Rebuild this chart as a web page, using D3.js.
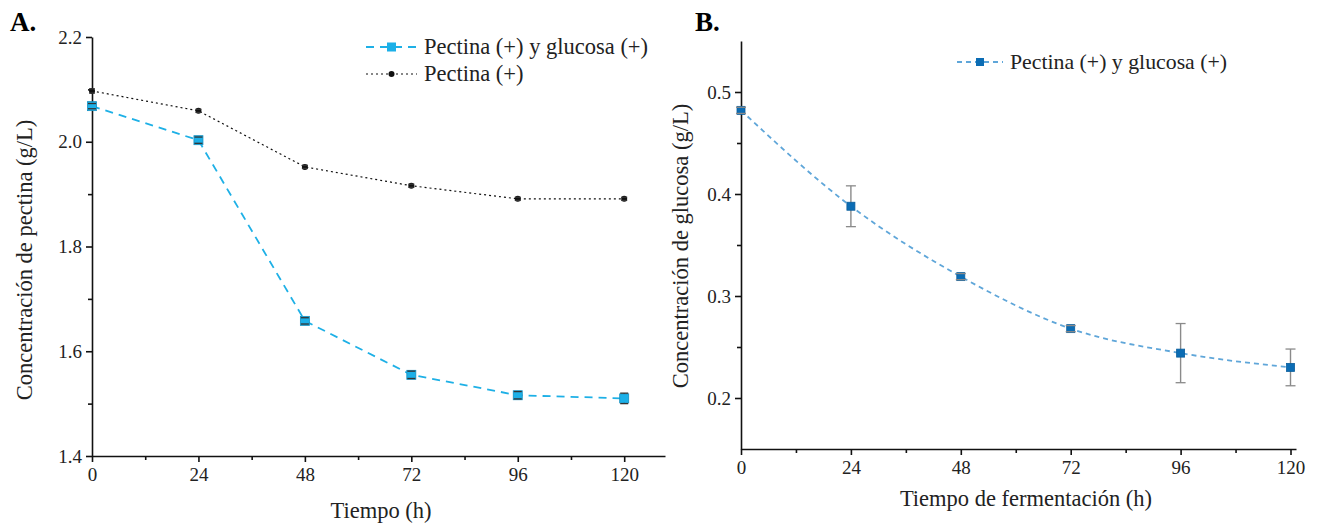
<!DOCTYPE html>
<html><head><meta charset="utf-8">
<script src="https://cdn.jsdelivr.net/npm/d3@7"></script>
<style>body{margin:0;background:#fff}svg{display:block}</style>
</head><body><svg id="c" width="1317" height="525"></svg>
<script>
const times = [0, 24, 48, 72, 96, 120];
const xTicks = [0, 24, 48, 72, 96, 120];
// Panel A
const pectGluc = [2.068, 2.003, 1.658, 1.555, 1.516, 1.510];
const pectGlucErr = [0.005, 0.006, 0.006, 0.007, 0.007, 0.010];
const pect = [2.097, 2.059, 1.952, 1.916, 1.891, 1.891];
const pectErr = [0.004, 0.003, 0.003, 0.003, 0.003, 0.003];
const yTicksA = [1.4, 1.6, 1.8, 2.0, 2.2];
const yMinorA = [1.5, 1.7, 1.9, 2.1];
// Panel B
const gluc = [0.482, 0.388, 0.319, 0.268, 0.244, 0.230];
const glucErr = [0.003, 0.020, 0.003, 0.003, 0.029, 0.018];
const yTicksB = [0.2, 0.3, 0.4, 0.5];
const yMinorB = [0.25, 0.35, 0.45];
const xMinor = [12, 36, 60, 84, 108];

const FONT = "Liberation Serif, DejaVu Serif, serif";
const svg = d3.select("#c").attr("font-family", FONT);

function panel(o){
  const g = svg.append("g");
  const x = d3.scaleLinear().domain(o.xd).range([o.x0, o.x1]);
  const y = d3.scaleLinear().domain(o.yd).range([o.y1, o.y0]);
  const ax = g.append("g").attr("transform",`translate(0,${o.y1})`)
    .call(d3.axisBottom(x).tickValues(xTicks).tickSize(6).tickSizeOuter(0).tickPadding(6).tickFormat(d3.format("d")));
  const axm = g.append("g").attr("transform",`translate(0,${o.y1})`)
    .call(d3.axisBottom(x).tickValues(xMinor).tickSize(4).tickSizeOuter(0).tickFormat(""));
  axm.select(".domain").remove();
  const ay = g.append("g").attr("transform",`translate(${o.x0},0)`)
    .call(d3.axisLeft(y).tickValues(o.yt).tickSize(6).tickSizeOuter(0).tickPadding(4).tickFormat(d3.format(".1f")));
  const aym = g.append("g").attr("transform",`translate(${o.x0},0)`)
    .call(d3.axisLeft(y).tickValues(o.ym).tickSize(4).tickSizeOuter(0).tickFormat(""));
  aym.select(".domain").remove();
  [ax,axm,ay,aym].forEach(a=>{a.attr("font-family",FONT);
    a.selectAll("path,line").attr("stroke","#111").attr("stroke-width",1.6);
    a.selectAll("text").attr("font-size",19).attr("fill","#222");});
  g.append("text").attr("x",o.xtX).attr("y",o.xtY).attr("text-anchor","middle")
    .attr("font-size",22.5).attr("fill","#222").text(o.xt);
  g.append("text").attr("transform",`translate(${o.ytX},${o.ytY}) rotate(-90)`).attr("text-anchor","middle")
    .attr("font-size",22.5).attr("fill","#222").text(o.yt_);
  g.append("text").attr("x",o.lx).attr("y",31).attr("font-size",27).attr("font-weight","bold").attr("fill","#000").text(o.label);
  return {g,x,y};
}

const A = panel({x0:92,x1:665,y0:37,y1:456,xd:[0,129.2],yd:[1.4,2.2],yt:yTicksA,ym:yMinorA,
  xt:"Tiempo (h)",xtX:381,xtY:518,yt_:"Concentración de pectina (g/L)",ytX:32,ytY:260,label:"A.",lx:10});
const B = panel({x0:741,x1:1296,y0:41,y1:449,xd:[0,121.2],yd:[0.15,0.55],yt:yTicksB,ym:yMinorB,
  xt:"Tiempo de fermentación (h)",xtX:1026,xtY:506,yt_:"Concentración de glucosa (g/L)",ytX:688,ytY:246,label:"B.",lx:695});

function series(P, vals, errs, st){
  const d = times.map((t,i)=>({t,v:vals[i],e:errs[i]}));
  const line = d3.line().x(d=>P.x(d.t)).y(d=>P.y(d.v)).curve(st.curve);
  P.g.append("path").datum(d).attr("d",line).attr("fill","none").attr("stroke",st.line)
    .attr("stroke-width",st.lw).attr("stroke-dasharray",st.dash);
  const eb = P.g.append("g").selectAll("g").data(d).join("g").attr("stroke",st.err).attr("stroke-width",1.4);
  eb.append("line").attr("x1",d=>P.x(d.t)).attr("x2",d=>P.x(d.t)).attr("y1",d=>P.y(d.v+d.e)).attr("y2",d=>P.y(d.v-d.e));
  if(st.shape==="square"){
    P.g.append("g").selectAll("rect").data(d).join("rect")
      .attr("x",d=>P.x(d.t)-st.ms/2).attr("y",d=>P.y(d.v)-st.ms/2).attr("width",st.ms).attr("height",st.ms)
      .attr("fill",st.mfill).attr("stroke",st.mstroke).attr("stroke-width",0.8);
  } else {
    P.g.append("g").selectAll("circle").data(d).join("circle")
      .attr("cx",d=>P.x(d.t)).attr("cy",d=>P.y(d.v)).attr("r",st.ms/2).attr("fill",st.mfill);
  }
  const eb2 = P.g.append("g").selectAll("g").data(d).join("g").attr("stroke",st.err).attr("stroke-width",1.3);
  eb2.append("line").attr("x1",d=>P.x(d.t)-st.cap).attr("x2",d=>P.x(d.t)+st.cap).attr("y1",d=>P.y(d.v+d.e)).attr("y2",d=>P.y(d.v+d.e));
  eb2.append("line").attr("x1",d=>P.x(d.t)-st.cap).attr("x2",d=>P.x(d.t)+st.cap).attr("y1",d=>P.y(d.v-d.e)).attr("y2",d=>P.y(d.v-d.e));
}

const stCyan = {line:"#1eb0e6",lw:1.8,dash:"8,6",err:"#333",cap:4,shape:"square",ms:9,mfill:"#1cb0e8",mstroke:"#1590c0",curve:d3.curveLinear};
const stBlack = {line:"#111",lw:1.2,dash:"2,3",err:"#333",cap:3,shape:"circle",ms:6,mfill:"#111",curve:d3.curveLinear};
const stBlue = {line:"#5fa6d9",lw:1.8,dash:"5,4",err:"#8a8a8a",cap:5,shape:"square",ms:8,mfill:"#0b6cb4",mstroke:"#0a5e9c",curve:d3.curveMonotoneX};

series(A, pect, pectErr, stBlack);
series(A, pectGluc, pectGlucErr, stCyan);
series(B, gluc, glucErr, stBlue);

function legItem(g, x, y, w, st, text, fs){
  g.append("line").attr("x1",x).attr("x2",x+w).attr("y1",y).attr("y2",y).attr("stroke",st.line)
    .attr("stroke-width",st.lw).attr("stroke-dasharray",st.dash);
  if(st.shape==="square") g.append("rect").attr("x",x+w/2-st.ms/2).attr("y",y-st.ms/2).attr("width",st.ms).attr("height",st.ms).attr("fill",st.mfill);
  else g.append("circle").attr("cx",x+w/2).attr("cy",y).attr("r",st.ms/2).attr("fill",st.mfill);
  g.append("text").attr("x",x+w+7).attr("y",y+7).attr("font-size",fs).attr("fill","#222").text(text);
}
legItem(A.g, 366, 47, 51, stCyan, "Pectina (+) y glucosa (+)", 22.5);
legItem(A.g, 366, 74, 51, stBlack, "Pectina (+)", 22.5);
legItem(B.g, 957, 62, 46, stBlue, "Pectina (+) y glucosa (+)", 21.8);
</script></body></html>
